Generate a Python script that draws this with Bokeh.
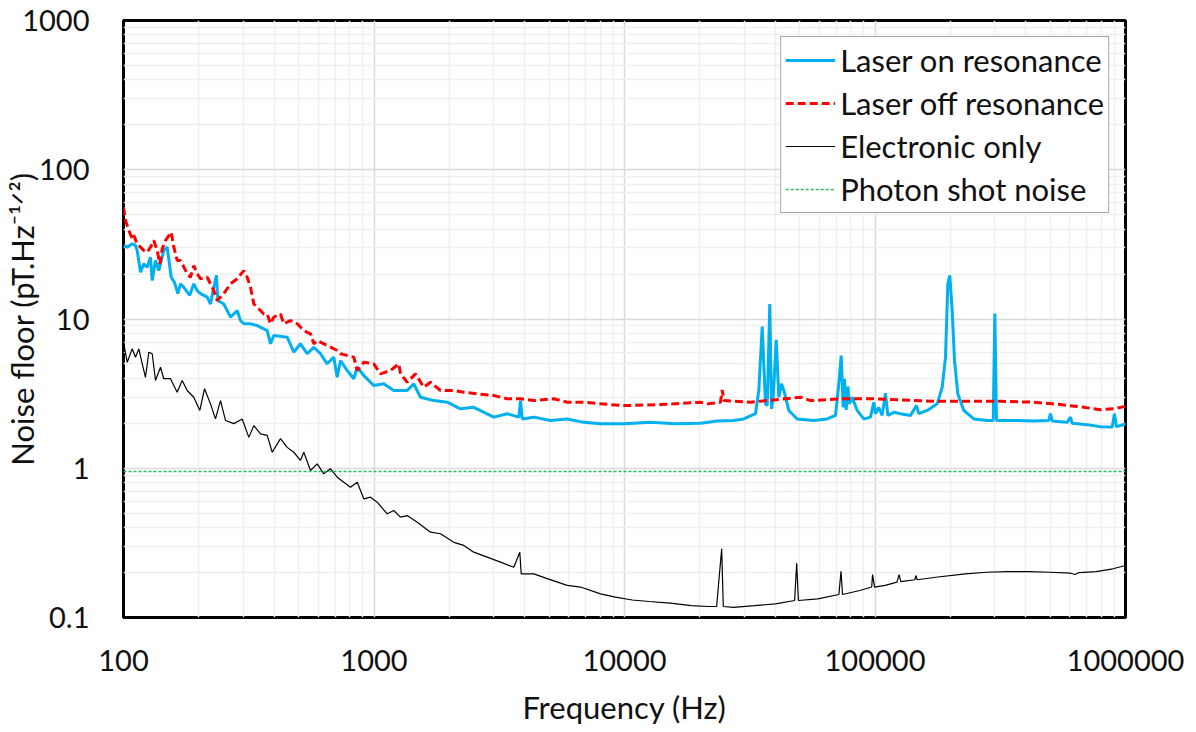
import math
from bokeh.plotting import figure
from bokeh.models import FixedTicker, CustomJSTickFormatter, Legend, LegendItem
from bokeh.embed import file_html
from bokeh.resources import INLINE

# ---------------- data ----------------
freq_on = [
    100, 103.5, 108.3, 111.7, 113.4, 116.9, 120.5, 124.3, 128.2, 130.2,
    134.2, 138.3, 144.8, 149.4, 155.0, 159.8, 164.8, 168.9, 174.1, 183.9,
    190.8, 196.9, 203.0, 215.9, 222.5, 229.3, 235.0, 237.9, 251.4, 267.4,
    284.4, 293.1, 302.1, 321.4, 341.8, 374.7, 386.3, 398.1, 450.3, 478.4,
    509.0, 541.2, 575.1, 611.5, 650.4, 691.0, 713.0, 735.0, 781.6, 830.6,
    857.0, 910.6, 998, 1094, 1199, 1357, 1442, 1533, 1733, 1960,
    2214, 2502, 3008, 3401, 3785, 3845, 3906, 4345, 5066, 5906,
    6879, 8020, 10000, 12700, 15980, 20110, 23440, 27310, 29930, 33340,
    34370, 35460, 36550, 37130, 38020, 38630, 39240, 40330, 41310, 42340,
    43250, 45280, 48910, 56980, 64450, 69560, 71700, 73280, 74650, 75540,
    76740, 77880, 79110, 81090, 84890, 90230, 95940, 98900, 100500, 103500,
    106800, 110100, 112500, 118900, 126400, 138600, 146500, 149600, 161600, 177100,
    185500, 191200, 195300, 198900, 203300, 207700, 214100, 226200, 248000, 280400,
    296500, 300800, 305500, 369600, 430400, 494000, 501800, 509700, 585200, 603200,
    612700, 703400, 794800, 885100, 903700, 920500, 1000000,
]
noise_on = [
    31.1, 30.3, 31.9, 31.1, 28.8, 20.6, 23.4, 22.2, 25.9, 18.1,
    24.7, 21.1, 28.8, 30.3, 19.05, 17.6, 14.8, 17.2, 16.3, 14.4,
    17.2, 15.5, 14.8, 14.0, 12.6, 16.3, 19.6, 13.3, 12.6, 10.3,
    11.4, 9.77, 9.29, 9.29, 9.04, 8.37, 6.82, 7.75, 7.55, 5.99,
    6.82, 5.85, 6.47, 5.85, 5.01, 5.55, 4.07, 5.27, 4.52, 3.98,
    4.75, 4.18, 3.58, 3.68, 3.32, 3.32, 3.68, 2.99, 2.84, 2.77,
    2.50, 2.56, 2.20, 2.32, 2.20, 2.84, 2.14, 2.20, 2.09, 2.14,
    2.03, 1.99, 1.99, 2.03, 1.99, 2.00, 2.07, 2.09, 2.14, 2.32,
    3.32, 8.91, 2.70, 2.63, 12.6, 2.50, 2.99, 7.25, 2.99, 3.68,
    3.32, 2.44, 2.14, 2.09, 2.14, 2.26, 3.68, 5.69, 2.56, 3.98,
    2.46, 3.53, 2.70, 2.99, 2.44, 2.14, 2.20, 2.77, 2.32, 2.56,
    2.26, 3.18, 2.26, 2.37, 2.32, 2.26, 2.63, 2.32, 2.44, 2.70,
    3.49, 5.55, 17.2, 19.6, 11.4, 5.27, 3.15, 2.44, 2.14, 2.09,
    2.09, 10.9, 2.09, 2.09, 2.07, 2.09, 2.32, 2.07, 2.03, 2.20,
    2.00, 1.96, 1.90, 1.89, 2.32, 1.90, 1.98,
]

freq_off = [
    100, 101.9, 105.0, 108.3, 109.9, 113.4, 116.9, 120.5, 124.3, 128.2,
    132.1, 136.3, 139.6, 142.7, 147.2, 155.0, 158.8, 163.8, 168.9, 179.6,
    185.1, 190.8, 196.9, 203.0, 215.9, 229.3, 236.6, 251.4, 267.4, 284.4,
    302.1, 311.7, 321.4, 331.3, 341.8, 363.2, 374.7, 386.3, 398.1, 423.4,
    436.5, 464.2, 493.6, 524.6, 557.9, 575.1, 593.3, 650.4, 713.0, 735.0,
    830.6, 857.0, 910.6, 998, 1062, 1164, 1256, 1276, 1357, 1464,
    1581, 1681, 1843, 2083, 2283, 2582, 3008, 3401, 3845, 4345,
    5222, 5906, 6879, 8020, 10000, 13920, 20110, 21380, 24160, 24550,
    24910, 31840, 50430, 55270, 75050, 98900, 171700, 317000, 430400, 550400,
    681600, 794800, 898000, 1000000,
]
noise_off = [
    56.1, 45.7, 39.2, 34.5, 36.3, 31.9, 30.3, 28.8, 28.0, 30.3,
    33.6, 28.8, 23.4, 29.5, 33.6, 38.2, 30.3, 24.7, 24.7, 20.1,
    19.05, 22.8, 20.1, 18.6, 19.05, 15.5, 13.3, 14.8, 17.2, 18.6,
    21.1, 19.05, 16.3, 12.6, 12.0, 10.8, 10.8, 9.29, 10.3, 10.8,
    9.29, 9.77, 9.29, 8.37, 7.96, 6.82, 7.18, 6.64, 6.15, 5.85,
    5.55, 4.52, 5.13, 5.01, 4.29, 4.52, 5.01, 4.29, 3.77, 4.29,
    3.49, 3.77, 3.32, 3.32, 3.23, 3.15, 3.07, 2.92, 2.92, 2.84,
    2.92, 2.77, 2.77, 2.70, 2.63, 2.67, 2.77, 2.70, 2.77, 3.35,
    2.84, 2.77, 2.99, 2.84, 2.92, 2.92, 2.81, 2.81, 2.77, 2.67,
    2.56, 2.47, 2.50, 2.60,
]

freq_elec = [
    100, 103.5, 108.3, 111.7, 115.1, 118.8, 122.4, 126.2, 130.2, 134.2,
    140.5, 144.8, 154.0, 163.8, 171.5, 179.6, 190.8, 201.7, 210.6, 222.5,
    232.9, 243.9, 255.4, 275.6, 297.8, 316.4, 331.3, 352.4, 374.7, 392.4,
    423.4, 450.3, 478.4, 509.0, 524.6, 557.9, 593.3, 630.5, 670.4, 713.0,
    757.6, 805.7, 857.0, 910.6, 968.2, 1030, 1129, 1199, 1276, 1357,
    1488, 1681, 1843, 2083, 2283, 2502, 2831, 3199, 3615, 3820,
    3869, 4345, 4914, 5906, 6674, 8020, 9198, 10740, 12540, 15220,
    18480, 21590, 23320, 24430, 24800, 27230, 33040, 40070, 47760, 48680,
    49440, 59120, 71760, 73160, 74200, 87010, 97010, 97800, 99600, 109800,
    122400, 124800, 126800, 144100, 145600, 147400, 174900, 229300, 278400, 338100,
    410400, 498200, 604300, 628700, 653500, 762400, 890900, 1000000,
]
noise_elec = [
    6.99, 5.13, 6.31, 5.55, 6.31, 5.01, 4.07, 5.99, 5.85, 3.87,
    4.75, 3.98, 3.98, 3.23, 3.87, 3.32, 2.99, 2.44, 3.41, 2.70,
    2.14, 2.84, 2.09, 1.99, 2.14, 1.61, 1.93, 1.70, 1.66, 1.28,
    1.58, 1.38, 1.28, 1.13, 1.28, 0.966, 1.07, 0.918, 0.992, 0.871,
    0.806, 0.746, 0.806, 0.624, 0.640, 0.592, 0.495, 0.521, 0.470, 0.482,
    0.435, 0.373, 0.364, 0.319, 0.304, 0.274, 0.254, 0.235, 0.217, 0.274,
    0.196, 0.196, 0.182, 0.164, 0.160, 0.144, 0.137, 0.131, 0.128, 0.125,
    0.120, 0.1185, 0.1185, 0.289, 0.1185, 0.117, 0.120, 0.1235, 0.130, 0.231,
    0.130, 0.1334, 0.1426, 0.204, 0.1426, 0.1517, 0.160, 0.194, 0.160, 0.164,
    0.1724, 0.194, 0.174, 0.179, 0.191, 0.179, 0.186, 0.196, 0.201, 0.203,
    0.203, 0.201, 0.198, 0.194, 0.200, 0.203, 0.212, 0.223,
]

freq_shot = [100, 1000000]
noise_shot = [0.95, 0.95]

x_ticks = [100, 1000, 10000, 100000, 1000000]
y_ticks = [0.1, 1, 10, 100, 1000]
series_labels = ["Laser on resonance", "Laser off resonance", "Electronic only", "Photon shot noise"]
x_title = "Frequency (Hz)"
y_title = "Noise floor (pT.Hz\u207b\u00b9\u141f\u00b2)"

# ---------------- figure ----------------
FONT = "Lato"
W, H = 1190, 730
FL, FR, FT, FB = 123, 1125, 20, 617   # frame edges in canvas pixels
p = figure(width=W, height=H, x_axis_type="log", y_axis_type="log",
           x_range=(100, 1000000), y_range=(0.1, 1000),
           output_backend="svg", toolbar_location=None,
           min_border_left=FL, min_border_right=W - FR,
           min_border_top=FT, min_border_bottom=H - FB)
p.background_fill_color = "white"
p.border_fill_color = "white"
p.outline_line_color = "black"
p.outline_line_width = 3

def minor_of(ticks):
    out = []
    for t in ticks[:-1]:
        out += [t * k for k in range(2, 10)]
    return out

xt = FixedTicker(ticks=x_ticks, minor_ticks=minor_of(x_ticks))
yt = FixedTicker(ticks=y_ticks, minor_ticks=minor_of(y_ticks))
p.xaxis.ticker = xt
p.yaxis.ticker = yt
p.xgrid.ticker = xt
p.ygrid.ticker = yt

fmt = CustomJSTickFormatter(code="return String(tick);")
for ax in (p.xaxis, p.yaxis):
    ax.formatter = fmt
    ax.axis_line_color = None
    ax.major_tick_line_color = None
    ax.minor_tick_line_color = None
    ax.major_label_text_font = FONT
    ax.major_label_text_font_size = "29px"
    ax.major_label_text_color = "#111111"
    ax.axis_label_text_font = FONT
    ax.axis_label_text_font_size = "31px"
    ax.axis_label_text_font_style = "normal"
    ax.axis_label_text_color = "#111111"

p.xaxis.major_label_standoff = 26
p.yaxis.major_label_standoff = 28
p.xaxis.axis_label = x_title
p.xaxis.axis_label_standoff = 14
p.yaxis.axis_label = y_title
p.yaxis.axis_label_standoff = -22

for g in (p.xgrid, p.ygrid):
    g.grid_line_color = "#d9d9d9"
    g.grid_line_width = 1.5
    g.minor_grid_line_color = "#efefef"
    g.minor_grid_line_width = 1.5

r_on = p.line(freq_on, noise_on, line_color="#00B0F0", line_width=3)
r_off = p.line(freq_off, noise_off, line_color="#FF0000", line_width=3, line_dash="8 4")
r_el = p.line(freq_elec, noise_elec, line_color="black", line_width=1.2)
r_sh = p.line(freq_shot, noise_shot, line_color="#1DBF5A", line_width=1.4, line_dash="3 2")

legend = Legend(items=[LegendItem(label=series_labels[0], renderers=[r_on]),
                       LegendItem(label=series_labels[1], renderers=[r_off]),
                       LegendItem(label=series_labels[2], renderers=[r_el]),
                       LegendItem(label=series_labels[3], renderers=[r_sh])],
                location="top_right")
legend.label_text_font = FONT
legend.label_text_font_size = "31px"
legend.label_text_color = "#111111"
legend.glyph_width = 50
legend.glyph_height = 34
legend.label_height = 34
legend.label_standoff = 5
legend.spacing = 5
legend.padding = 4
legend.margin = 16
legend.border_line_color = "#505050"
legend.border_line_width = 1.5
legend.background_fill_alpha = 1.0
p.add_layout(legend)

open("out.html", "w").write(file_html(p, INLINE))
